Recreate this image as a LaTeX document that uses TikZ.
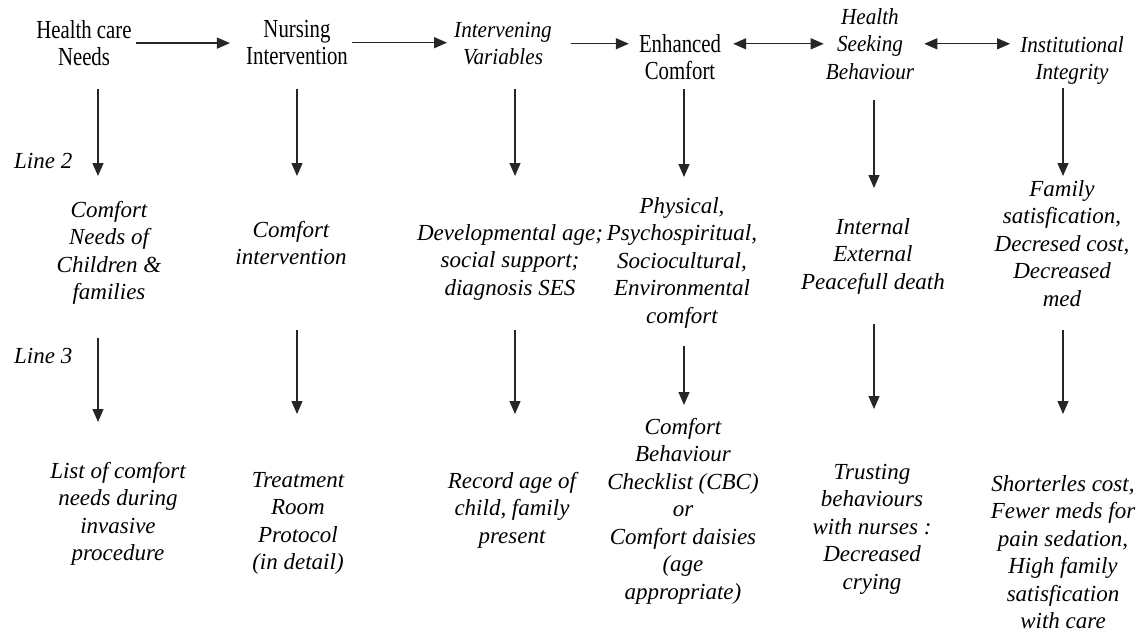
\documentclass[tikz,border=0pt]{standalone}
\usepackage{fontspec}
\setmainfont{Liberation Serif}
\newfontfamily\hdfont[FakeStretch=0.8]{Liberation Serif}
\newfontfamily\hdifont[FakeStretch=0.92]{Liberation Serif}
\usetikzlibrary{arrows.meta}
\tikzset{
  arr/.style={line width=1.3pt, draw=black!85, -{Triangle[length=13pt,width=11pt]}},
  darr/.style={line width=1.3pt, draw=black!85, {Triangle[length=13pt,width=11pt]}-{Triangle[length=13pt,width=11pt]}},
  hd/.style={anchor=north, align=center, inner sep=0pt, font=\hdfont\fontsize{26}{27.5}\selectfont},
  hdi/.style={anchor=north, align=center, inner sep=0pt, font=\hdifont\itshape\fontsize{23}{27.5}\selectfont},
  txt/.style={anchor=north, align=center, inner sep=0pt, font=\itshape\fontsize{23}{27.5}\selectfont},
  lbl/.style={anchor=west, inner sep=0pt, font=\itshape\fontsize{23}{27.5}\selectfont}
}
\begin{document}
\begin{tikzpicture}[x=1pt,y=-1pt]
\useasboundingbox (0,0) rectangle (1143,634);
% ---------- header row ----------
\node[hd]  (hcn) at (84,20)  {Health care\\Needs};
\node[hd]  (ni)  at (297,20) {Nursing\\Intervention};
\node[hdi] (iv)  at (503,22) {Intervening\\Variables};
\node[hd]  (ec)  at (680,34) {Enhanced\\Comfort};
\node[hdi] (hsb) at (870,8)  {Health\\Seeking\\Behaviour};
\node[hdi] (ii)  at (1072,36) {Institutional\\Integrity};
\draw[arr, shorten <=4pt, shorten >=16pt] (hcn.east) -- (hcn.east -| ni.west);
\draw[arr, shorten <=4pt, shorten >=7pt] (ni.east) -- (ni.east -| iv.west);
\draw[arr, shorten <=19pt, shorten >=10pt] (iv.east) -- (iv.east -| ec.west);
\draw[darr, shorten <=12pt, shorten >=2pt] (ec.east |- hsb.west) -- (hsb.west);
\draw[darr, shorten <=10pt, shorten >=10pt] (hsb.east) -- (hsb.east -| ii.west);
% ---------- row labels ----------
\node[lbl] (l2) at (14,161) {Line 2};
\node[lbl] (l3) at (14,356) {Line 3};
% ---------- second row ----------
\node[txt] (c1) at (109,201) {Comfort\\Needs of\\Children \&\\families};
\node[txt] (c2) at (291,221) {Comfort\\intervention};
\node[txt] (c3) at (510,224) {Developmental age;\\social support;\\diagnosis SES};
\node[txt] (c4) at (682,197) {Physical,\\Psychospiritual,\\Sociocultural,\\Environmental\\comfort};
\node[txt] (c5) at (873,218) {Internal\\External\\Peacefull death};
\node[txt] (c6) at (1062,180) {Family\\satisfication,\\Decresed cost,\\Decreased\\med};
% ---------- bottom row ----------
\node[txt] (d1) at (118,462) {List of comfort\\needs during\\invasive\\procedure};
\node[txt] (d2) at (298,472) {Treatment\\Room\\Protocol\\(in detail)};
\node[txt] (d3) at (512,472) {Record age of\\child, family\\present};
\node[txt] (d4) at (683,418) {Comfort\\Behaviour\\Checklist (CBC)\\or\\Comfort daisies\\(age\\appropriate)};
\node[txt] (d5) at (872,464) {Trusting\\behaviours\\with nurses :\\Decreased\\crying};
\node[txt] (d6) at (1063,475) {Shorterles cost,\\Fewer meds for\\pain sedation,\\High family\\satisfication\\with care};
% ---------- vertical arrow end points ----------
\coordinate (a1s) at (98,89);   \coordinate (a1e) at (98,176);
\coordinate (a2s) at (297,89);  \coordinate (a2e) at (297,176);
\coordinate (a3s) at (515,89);  \coordinate (a3e) at (515,176);
\coordinate (a4s) at (684,89);  \coordinate (a4e) at (684,177);
\coordinate (a5s) at (874,100); \coordinate (a5e) at (874,188);
\coordinate (a6s) at (1063,88); \coordinate (a6e) at (1063,176);
\coordinate (b1s) at (98,338);  \coordinate (b1e) at (98,422);
\coordinate (b2s) at (297,330); \coordinate (b2e) at (297,414);
\coordinate (b3s) at (515,330); \coordinate (b3e) at (515,414);
\coordinate (b4s) at (684,346); \coordinate (b4e) at (684,405);
\coordinate (b5s) at (874,324); \coordinate (b5e) at (874,409);
\coordinate (b6s) at (1063,330);\coordinate (b6e) at (1063,414);
\foreach \i in {1,...,6}{
  \draw[arr] (a\i s) -- (a\i e);
  \draw[arr] (b\i s) -- (b\i e);
}
\end{tikzpicture}
\end{document}
